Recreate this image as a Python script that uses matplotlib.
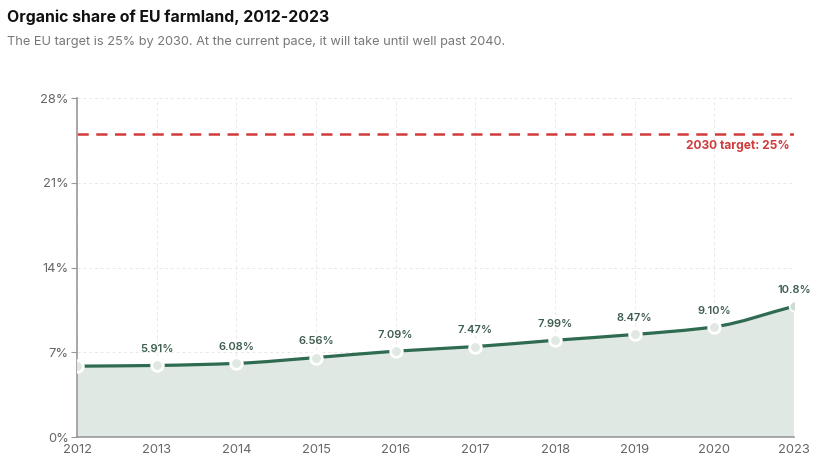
import numpy as np
import matplotlib
matplotlib.use("Agg")
import matplotlib.pyplot as plt
from matplotlib.path import Path
from matplotlib.patches import PathPatch

plt.rcParams['font.family'] = ['Inter', 'DejaVu Sans']

years = ["2012", "2013", "2014", "2015", "2016", "2017", "2018", "2019", "2020", "2023"]
share = [5.85, 5.91, 6.08, 6.56, 7.09, 7.47, 7.99, 8.47, 9.10, 10.8]
labels = ["", "5.91%", "6.08%", "6.56%", "7.09%", "7.47%", "7.99%", "8.47%", "9.10%", "10.8%"]
target = 25
y_ticks = [0, 7, 14, 21, 28]

GREEN = "#2e6b50"
FILL = "#dfe8e3"
RED = "#d13b3b"

fig = plt.figure(figsize=(8.22, 4.71), dpi=100)
ax = fig.add_axes([77/822, 1-437/471, (794-77)/822, (437-98)/471])

x = np.arange(len(years), dtype=float)
y = np.array(share, dtype=float)

# monotone cubic (Fritsch-Carlson) tangents -> bezier segments
d = np.diff(y) / np.diff(x)
m = np.zeros_like(y)
m[0], m[-1] = d[0], d[-1]
for i in range(1, len(y) - 1):
    if d[i-1] * d[i] <= 0:
        m[i] = 0
    else:
        m[i] = 2 / (1/d[i-1] + 1/d[i])
verts = [(x[0], y[0])]
codes = [Path.MOVETO]
for i in range(len(x) - 1):
    h = x[i+1] - x[i]
    verts += [(x[i] + h/3, y[i] + m[i]*h/3), (x[i+1] - h/3, y[i+1] - m[i+1]*h/3), (x[i+1], y[i+1])]
    codes += [Path.CURVE4] * 3
line_path = Path(verts, codes)
fill_path = Path(verts + [(x[-1], 0), (x[0], 0), (x[0], y[0])],
                 codes + [Path.LINETO, Path.LINETO, Path.CLOSEPOLY])
ax.add_patch(PathPatch(fill_path, facecolor=FILL, edgecolor="none", zorder=1))
ax.add_patch(PathPatch(line_path, facecolor="none", edgecolor=GREEN, lw=2.3, zorder=3))

ax.scatter(x[:-1], y[:-1], s=70, facecolor=FILL, edgecolor="white", linewidth=2.0, zorder=4, clip_on=True)
ax.scatter(x[-1:], y[-1:], s=50, facecolor="#cfdcd5", edgecolor="white", linewidth=1.2, zorder=4, clip_on=True)

for xi, yi, lab in zip(x, y, labels):
    if lab:
        ax.annotate(lab, (xi, yi), xytext=(0, 8), textcoords="offset points",
                    ha="center", va="bottom", fontsize=8, fontweight="semibold", color="#3f5e50")

ax.axhline(target, color=RED, lw=1.8, ls=(0, (4.5, 3)), zorder=2)
ax.text(x[-1] - 0.06, target - 0.45, "2030 target: 25%", color=RED, ha="right", va="top",
        fontsize=8.6, fontweight="bold")

ax.set_xlim(x[0], x[-1])
ax.set_ylim(0, 28)
ax.set_xticks(x)
ax.set_xticklabels(years)
ax.set_yticks(y_ticks)
ax.set_yticklabels([f"{t}%" for t in y_ticks])
ax.grid(True, color="#e8e8e8", lw=0.7, ls=(0, (3, 3)))
ax.set_axisbelow(True)
for s in ["top", "right"]:
    ax.spines[s].set_visible(False)
for s in ["left", "bottom"]:
    ax.spines[s].set_color("#999999")
    ax.spines[s].set_linewidth(1.2)
ax.tick_params(axis="y", length=4, color="#999999", labelsize=9.3, labelcolor="#666666", pad=2)
ax.tick_params(axis="x", length=0, labelsize=9.3, labelcolor="#666666", pad=5)

fig.text(7/822, 1-17/471, "Organic share of EU farmland, 2012-2023", fontsize=11.4, fontweight="bold",
         color="#111111", va="center", ha="left")
fig.text(7/822, 1-42/471, "The EU target is 25% by 2030. At the current pace, it will take until well past 2040.",
         fontsize=9.2, color="#777777", va="center", ha="left")

fig.savefig("out.png", dpi=100)
